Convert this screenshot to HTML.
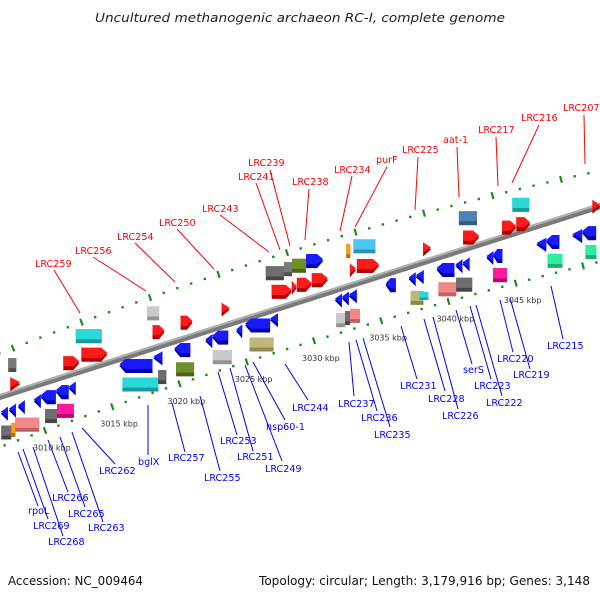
<!DOCTYPE html>
<html><head><meta charset="utf-8"><title>Genome map</title>
<style>
html,body{margin:0;padding:0;background:#fff;}
svg{display:block;}
.t{font-family:"DejaVu Sans","Liberation Sans",sans-serif;}
.r{fill:#ff0000;font-size:9.6px;font-family:"DejaVu Sans","Liberation Sans",sans-serif;}
.b{fill:#0000ff;font-size:9.6px;font-family:"DejaVu Sans","Liberation Sans",sans-serif;}
.rl{stroke:#ff0000;stroke-width:1;}
.bl{stroke:#0000ff;stroke-width:1;}
.k{fill:#333;font-size:8px;font-family:"DejaVu Sans","Liberation Sans",sans-serif;}
</style></head>
<body>
<svg id="map" width="600" height="600" viewBox="0 0 600 600" xmlns="http://www.w3.org/2000/svg">
<rect width="600" height="600" fill="#fff"/>
<text x="300" y="22" text-anchor="middle" class="t" font-size="12" font-style="italic" fill="#222" textLength="410" lengthAdjust="spacingAndGlyphs">Uncultured methanogenic archaeon RC-I, complete genome</text>

<g>
<line x1="-5" y1="398.6" x2="605" y2="204.6" stroke="#7a7a7a" stroke-width="6"/>
<line x1="-5" y1="396.6" x2="605" y2="202.6" stroke="#b0b0b0" stroke-width="2"/>
</g>
<g id="ticks"></g>
<g id="genes"></g>

<g>
<line class="rl" x1="54" y1="270" x2="80" y2="313"/><text class="r" x="35" y="267">LRC259</text>
<line class="rl" x1="93" y1="257" x2="146" y2="291"/><text class="r" x="75" y="254">LRC256</text>
<line class="rl" x1="135" y1="243" x2="175" y2="282"/><text class="r" x="117" y="240">LRC254</text>
<line class="rl" x1="177" y1="229" x2="214" y2="269"/><text class="r" x="159" y="226">LRC250</text>
<line class="rl" x1="220" y1="215" x2="269" y2="252"/><text class="r" x="202" y="212">LRC243</text>
<line class="rl" x1="256" y1="183" x2="280" y2="250"/><text class="r" x="238" y="180">LRC241</text>
<line class="rl" x1="270" y1="170" x2="290" y2="246"/><text class="r" x="248" y="166">LRC239</text>
<line class="rl" x1="309" y1="189" x2="305" y2="240"/><text class="r" x="292" y="185">LRC238</text>
<line class="rl" x1="352" y1="176" x2="340" y2="231"/><text class="r" x="334" y="173">LRC234</text>
<line class="rl" x1="387" y1="167" x2="355" y2="227"/><text class="r" x="376" y="163">purF</text>
<line class="rl" x1="418" y1="157" x2="415" y2="210"/><text class="r" x="402" y="153">LRC225</text>
<line class="rl" x1="457" y1="147" x2="459" y2="197"/><text class="r" x="443" y="143">aat-1</text>
<line class="rl" x1="496" y1="137" x2="498" y2="186"/><text class="r" x="478" y="133">LRC217</text>
<line class="rl" x1="539" y1="125" x2="512" y2="183"/><text class="r" x="521" y="121">LRC216</text>
<line class="rl" x1="584" y1="115" x2="585" y2="164"/><text class="r" x="563" y="111">LRC207</text>
</g>

<g>
<line class="bl" x1="18" y1="452" x2="38" y2="506"/><text class="b" x="28" y="514">rpoL</text>
<line class="bl" x1="23" y1="449" x2="48" y2="519"/><text class="b" x="33" y="529">LRC269</text>
<line class="bl" x1="33" y1="447" x2="63" y2="536"/><text class="b" x="48" y="545">LRC268</text>
<line class="bl" x1="48" y1="440" x2="68" y2="492"/><text class="b" x="52" y="501">LRC266</text>
<line class="bl" x1="60" y1="437" x2="85" y2="507"/><text class="b" x="68" y="517">LRC265</text>
<line class="bl" x1="72" y1="432" x2="103" y2="522"/><text class="b" x="88" y="531">LRC263</text>
<line class="bl" x1="82" y1="428" x2="115" y2="464"/><text class="b" x="99" y="474">LRC262</text>
<line class="bl" x1="148" y1="405" x2="148" y2="455"/><text class="b" x="138" y="465">bglX</text>
<line class="bl" x1="172" y1="403" x2="185" y2="452"/><text class="b" x="168" y="461">LRC257</text>
<line class="bl" x1="200" y1="396" x2="220" y2="471"/><text class="b" x="204" y="481">LRC255</text>
<line class="bl" x1="218" y1="372" x2="237" y2="435"/><text class="b" x="220" y="444">LRC253</text>
<line class="bl" x1="230" y1="368" x2="253" y2="451"/><text class="b" x="237" y="460">LRC251</text>
<line class="bl" x1="253" y1="362" x2="285" y2="420"/><text class="b" x="266" y="430">hsp60-1</text>
<line class="bl" x1="245" y1="365" x2="282" y2="461"/><text class="b" x="265" y="472">LRC249</text>
<line class="bl" x1="285" y1="364" x2="308" y2="400"/><text class="b" x="292" y="411">LRC244</text>
<line class="bl" x1="349" y1="342" x2="354" y2="396"/><text class="b" x="338" y="407">LRC237</text>
<line class="bl" x1="356" y1="340" x2="377" y2="411"/><text class="b" x="361" y="421">LRC236</text>
<line class="bl" x1="363" y1="338" x2="390" y2="427"/><text class="b" x="374" y="438">LRC235</text>
<line class="bl" x1="401" y1="326" x2="417" y2="379"/><text class="b" x="400" y="389">LRC231</text>
<line class="bl" x1="424" y1="319" x2="445" y2="391"/><text class="b" x="428" y="402">LRC228</text>
<line class="bl" x1="433" y1="317" x2="458" y2="409"/><text class="b" x="442" y="419">LRC226</text>
<line class="bl" x1="456" y1="310" x2="472" y2="364"/><text class="b" x="463" y="373">serS</text>
<line class="bl" x1="470" y1="306" x2="491" y2="379"/><text class="b" x="474" y="389">LRC223</text>
<line class="bl" x1="476" y1="305" x2="502" y2="396"/><text class="b" x="486" y="406">LRC222</text>
<line class="bl" x1="500" y1="300" x2="513" y2="352"/><text class="b" x="497" y="362">LRC220</text>
<line class="bl" x1="510" y1="298" x2="530" y2="369"/><text class="b" x="513" y="378">LRC219</text>
<line class="bl" x1="551" y1="286" x2="563" y2="339"/><text class="b" x="547" y="349">LRC215</text>
</g>

<text x="8" y="585" class="t" font-size="12" fill="#111" textLength="135" lengthAdjust="spacingAndGlyphs">Accession: NC_009464</text>
<text x="259" y="585" class="t" font-size="12" fill="#111" textLength="331" lengthAdjust="spacingAndGlyphs">Topology: circular; Length: 3,179,916 bp; Genes: 3,148</text>
</svg>
<script>
// ---- data ----
const tickStart = 3007;
const tickEnd = 3053;
const tickLabels = ["3010 kbp","3015 kbp","3020 kbp","3025 kbp","3030 kbp","3035 kbp","3040 kbp","3045 kbp"];
const tickLabelKbp = [3010,3015,3020,3025,3030,3035,3040,3045];
// genes: start kbp, end kbp, track, color, shape
const geneStart = [
 3009.24,3014.18,3019.41,3028.10,3029.43,3030.02,3031.05,3033.99,3034.51,3042.24,3046.15,
 3008.88,3012.78,3014.11,3019.34,3021.40,3024.42,3028.10,3029.58,3029.95,3031.05,3033.85,3034.36,3039.23,3042.17,3045.04,3046.08,3051.68,
 3007.54,3008.13,3008.80,3009.97,3010.49,3011.60,3012.55,3016.31,3018.81,3020.36,3022.65,3023.16,3024.93,3025.59,3027.43,3032.22,3032.74,3033.25,3035.98,3037.67,3038.19,3039.74,3041.13,3041.65,3043.42,3043.93,3047.10,3047.84,3049.75,3050.49,
 3007.07,3007.81,3008.11,3010.31,3011.20,3016.06,3018.71,3020.04,3022.76,3025.49,3031.90,3032.56,3032.93,3037.42,3038.09,3039.49,3040.81,3043.54,3047.59,3050.39];
const geneEnd = [
 3009.83,3016.09,3020.29,3029.43,3030.02,3031.05,3032.30,3034.29,3036.13,3043.57,3047.40,
 3009.61,3013.96,3016.02,3020.22,3022.28,3025.01,3029.58,3029.95,3031.05,3032.23,3034.29,3035.99,3039.82,3043.35,3046.08,3047.11,3052.26,
 3008.06,3008.65,3009.31,3010.49,3011.60,3012.55,3013.07,3018.74,3019.48,3021.54,3023.16,3024.34,3025.37,3027.43,3028.02,3032.74,3033.25,3033.84,3036.72,3038.19,3038.78,3041.06,3041.65,3042.17,3043.93,3044.60,3047.84,3048.80,3050.49,3051.52,
 3007.81,3008.11,3009.87,3011.20,3012.45,3018.71,3019.30,3021.36,3024.16,3027.26,3032.56,3032.93,3033.67,3038.38,3038.75,3040.81,3041.99,3044.57,3048.69,3051.21];
const geneTrack = [
 0,0,0,0,0,0,0,0,0,0,0,
 1,1,1,1,1,1,1,1,1,1,1,1,1,1,1,1,1,
 2,2,2,2,2,2,2,2,2,2,2,2,2,2,2,2,2,2,2,2,2,2,2,2,2,2,2,2,2,2,
 3,3,3,3,3,3,3,3,3,3,3,3,3,3,3,3,3,3,3,3];
const geneColor = [
 "gray","cyan","lgray","dgray","gray","olive","blue","orange","sky","steel","cyan",
 "red","red","red","red","red","red","red","red","red","red","red","red","red","red","red","red","red",
 "blue","blue","blue","blue","blue","blue","blue","blue","blue","blue","blue","blue","blue","blue","blue","blue","blue","blue","blue","blue","blue","blue","blue","blue","blue","blue","blue","blue","blue","blue",
 "dgray","orange","pink","dgray","magenta","cyan","dgray","olive","lgray","khaki","lgray","dgray","pink","khaki","cyan","pink","dgray","magenta","mint","mint"];
const geneShape = [
 "box","box","box","box","box","box","arrR","box","box","box","box",
 "triR","arrR","arrR","arrR","arrR","triR","arrR","triR","arrR","arrR","triR","arrR","triR","arrR","arrR","arrR","triR",
 "triL","triL","triL","triL","arrL","arrL","triL","arrL","triL","arrL","triL","arrL","triL","arrL","triL","triL","triL","triL","arrL","triL","triL","arrL","triL","triL","triL","arrL","triL","arrL","triL","arrL",
 "box","box","box","box","box","box","box","box","box","box","box","box","box","box","box","box","box","box","box","box"];

// ---- geometry ----
const trackT = [-0.65,-0.22,0.32,0.74];
const palette = {red:["#ff1a1a","#b30000"],blue:["#1a1aff","#0000a8"],cyan:["#2ad8d8","#129c9c"],lgray:["#cacaca","#939393"],
 dgray:["#6e6e6e","#474747"],gray:["#7a7a7a","#4d4d4d"],olive:["#6f8f2a","#4c641a"],orange:["#ff9a1a","#c06a00"],sky:["#4cc8f0","#2d90b5"],
 steel:["#4f82b2","#365b80"],pink:["#f28888","#c06262"],magenta:["#ff1aa0","#c00070"],khaki:["#bdb878","#8c8850"],mint:["#2eeea0","#1fae72"]};
function ux(k){return 13+(k-3010)*13.7;}
function uy(x){return 353.2-0.3929*x+0.000148*x*x;}
function lx(k){return 45+(k-3010)*13.45;}
function ly(x){return 447-0.3707*x+0.000103*x*x;}
function P(k,t){const f=(t+1)/2;const x1=ux(k),y1=uy(x1),x2=lx(k),y2=ly(x2);return [x1+(x2-x1)*f,y1+(y2-y1)*f];}
const NS="http://www.w3.org/2000/svg";
function mk(tag,attrs,parent){const e=document.createElementNS(NS,tag);for(const a in attrs)e.setAttribute(a,attrs[a]);parent.appendChild(e);return e;}

const tg=document.getElementById('ticks');
for(let k=tickStart;k<=tickEnd;k++){
  const ax=ux(k),ay=uy(ax),bx=lx(k),by=ly(bx);
  const dx=bx-ax,dy=by-ay,len=Math.hypot(dx,dy),nx=dx/len,ny=dy/len;
  [[ax,ay],[bx,by]].forEach(function(p,i){
    let e;
    if(k%5===0){
      e=mk('line',{x1:p[0]-nx*3.5,y1:p[1]-ny*3.5,x2:p[0]+nx*3.5,y2:p[1]+ny*3.5,stroke:'#1f8a1f','stroke-width':2.2},tg);
      
      
    } else {
      e=mk('rect',{x:p[0]-1.2,y:p[1]-1.2,width:2.4,height:2.4,fill:'#1f8a1f'},tg);
      
      
    }
  });
}
tickLabelKbp.forEach(function(k,i){
  const x=lx(k),y=ly(x);
  const e=mk('text',{x:x-12,y:y+20,class:'k'},tg);
  e.textContent=tickLabels[i];
  
  
});

const gg=document.getElementById('genes');
function shapePts(shape,w,h){
  const hd=Math.min(w*0.45,6);
  if(shape==='box')return [[0,0],[w,0],[w,h],[0,h]];
  if(shape==='arrR')return [[0,0],[w-hd,0],[w,h/2],[w-hd,h],[0,h]];
  if(shape==='arrL')return [[hd,0],[w,0],[w,h],[hd,h],[0,h/2]];
  if(shape==='triR')return [[0,0],[w,h/2],[0,h]];
  return [[w,0],[0,h/2],[w,h]];
}
for(let i=0;i<geneStart.length;i++){
  const km=(geneStart[i]+geneEnd[i])/2;
  const c=P(km,trackT[geneTrack[i]]);
  const w=Math.max((geneEnd[i]-geneStart[i])*13.575,4);
  const h=(geneColor[i]==='cyan'&&w<10)?8:14;
  const x0=c[0]-w/2,y0=c[1]-h/2;
  const pts=shapePts(geneShape[i],w,h);
  const col=palette[geneColor[i]];
  const g=mk('g',{},gg);
  
  
  mk('polygon',{points:pts.map(p=>(x0+p[0]).toFixed(1)+','+(y0+p[1]).toFixed(1)).join(' '),fill:col[1]},g);
  mk('polygon',{points:pts.map(p=>(x0+p[0]).toFixed(1)+','+(y0+p[1]*0.72).toFixed(1)).join(' '),fill:col[0]},g);
}
</script>
</body></html>
